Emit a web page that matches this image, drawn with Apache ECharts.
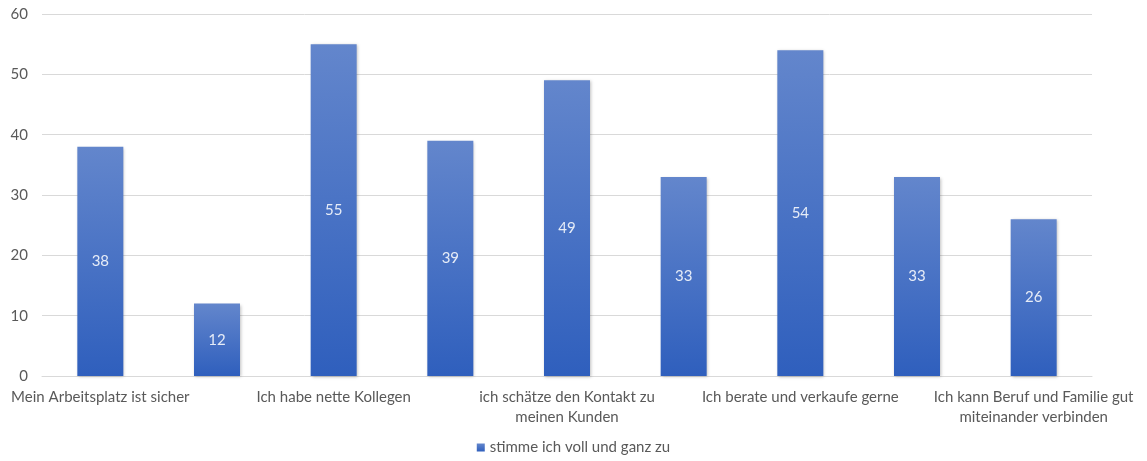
<!DOCTYPE html>
<html><head><meta charset="utf-8">
<script src="https://cdn.jsdelivr.net/npm/echarts@6/dist/echarts.min.js"></script>
<style>html,body{margin:0;padding:0;background:#fff}#c{width:1147px;height:461px}</style>
</head><body><div id="c"></div>
<script>
const categories = [
  "Mein Arbeitsplatz ist sicher",
  "Ich fühle mich wohl",
  "Ich habe nette Kollegen",
  "Ich werde fair bezahlt",
  "ich schätze den Kontakt zu\nmeinen Kunden",
  "Ich habe gute Aufstiegschancen",
  "Ich berate und verkaufe gerne",
  "Ich werde gut geführt",
  "Ich kann Beruf und Familie gut\nmiteinander verbinden"
];
const seriesName = "stimme ich voll und ganz zu";
const values = [38, 12, 55, 39, 49, 33, 54, 33, 26];
const yTicks = { min: 0, max: 60, interval: 10 };

const font = "Lato, 'Open Sans', sans-serif";
const chart = echarts.init(document.getElementById('c'), null, { renderer: 'canvas' });
chart.setOption({
  animation: false,
  grid: { left: 42, right: 55, top: 14, bottom: 85, containLabel: false },
  legend: {
    data: [seriesName], bottom: 1, left: 'center',
    itemWidth: 8, itemHeight: 8, icon: 'rect', itemGap: 4,
    textStyle: { color: '#595959', fontSize: 15, fontFamily: font }
  },
  xAxis: {
    type: 'category', data: categories,
    axisLine: { lineStyle: { color: '#d9d9d9' } },
    axisTick: { show: false },
    axisLabel: { interval: 1, color: '#595959', fontSize: 15, fontFamily: font, lineHeight: 20, margin: 11 }
  },
  yAxis: {
    type: 'value', min: yTicks.min, max: yTicks.max, interval: yTicks.interval,
    axisLine: { show: false }, axisTick: { show: false },
    splitLine: { lineStyle: { color: '#d9d9d9' } },
    axisLabel: { color: '#595959', fontSize: 15, fontFamily: font, margin: 14 }
  },
  series: [{
    name: seriesName, type: 'bar', data: values, barWidth: 46,
    itemStyle: {
      color: new echarts.graphic.LinearGradient(0, 0, 0, 1, [
        { offset: 0, color: '#6386cc' }, { offset: 1, color: '#2f5fbd' }
      ]),
      shadowColor: 'rgba(0,0,0,0.25)', shadowBlur: 3, shadowOffsetX: 1, shadowOffsetY: 1
    },
    label: { show: true, position: 'inside', color: '#e6ecf7', fontSize: 15, fontFamily: font }
  }]
});
</script></body></html>
